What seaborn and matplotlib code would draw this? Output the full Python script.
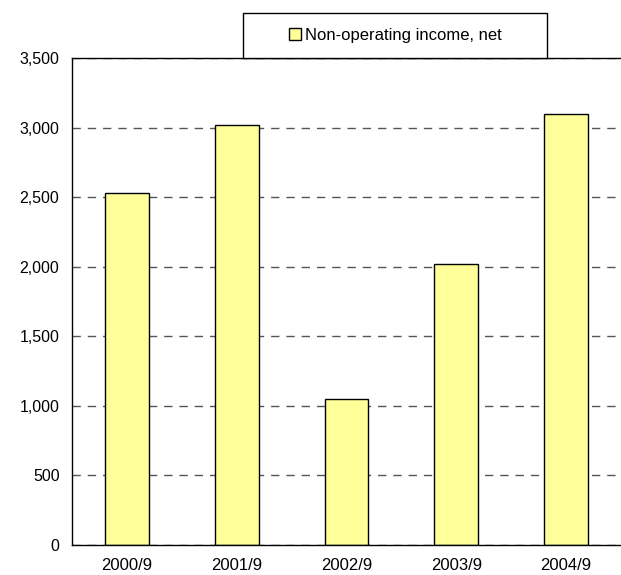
import matplotlib
matplotlib.use("Agg")
import matplotlib.pyplot as plt
from matplotlib.patches import Rectangle, Patch
from matplotlib.ticker import FuncFormatter, FixedLocator
import seaborn as sns
import pandas as pd

# Non-operating income, net by fiscal period
periods = ["2000/9", "2001/9", "2002/9", "2003/9", "2004/9"]
income = [2530, 3020, 1050, 2020, 3100]
series_name = "Non-operating income, net"
y_ticks = [0, 500, 1000, 1500, 2000, 2500, 3000, 3500]

sns.set_style("white")
plt.rcParams["font.family"] = ["Liberation Sans", "DejaVu Sans"]
plt.rcParams["font.size"] = 11
plt.rcParams["text.color"] = "black"
plt.rcParams["xtick.color"] = "black"
plt.rcParams["ytick.color"] = "black"
plt.rcParams["xtick.labelcolor"] = "black"
plt.rcParams["ytick.labelcolor"] = "black"

df = pd.DataFrame({"period": periods, "income": income})

fig = plt.figure(figsize=(6.21, 5.75), dpi=100)
W, H = 621, 575
ax = fig.add_axes([72 / W, 30 / H, 549 / W, 487 / H])

ax.yaxis.grid(True, linestyle=(0, (6, 5)), color="#555555", linewidth=1.0)
ax.set_axisbelow(True)

sns.barplot(data=df, x="period", y="income", color="#FFFF99",
            edgecolor="black", linewidth=1.0, width=0.4, saturation=1,
            ax=ax)

ax.set_xlim(-0.5, 4.5)
ax.set_ylim(0, 3500)
ax.set_yticks(y_ticks)
ax.yaxis.set_major_formatter(FuncFormatter(lambda v, p: f"{int(v):,}"))
ax.set_xlabel("")
ax.set_ylabel("")

ax.xaxis.set_minor_locator(FixedLocator([0.5, 1.5, 2.5, 3.5]))
ax.tick_params(axis="x", which="major", length=0, pad=9, labelsize=12,
               labelcolor="black")
ax.tick_params(axis="x", which="minor", direction="in", length=5,
               width=1, color="black")
ax.tick_params(axis="y", which="major", length=0, pad=9, labelsize=11.5,
               labelcolor="black")

for side in ["left", "bottom", "top"]:
    ax.spines[side].set_visible(True)
    ax.spines[side].set_color("black")
    ax.spines[side].set_linewidth(1.0)
ax.spines["right"].set_visible(False)

# Legend box above the plot area
x0, x1, y0, y1 = 243, 547, 13, 58
fig.patches.append(Rectangle((x0 / W, 1 - y1 / H), (x1 - x0) / W,
                             (y1 - y0) / H, transform=fig.transFigure,
                             facecolor="white", edgecolor="black",
                             linewidth=1.0, zorder=5))
handle = Patch(facecolor="#FFFF99", edgecolor="black", linewidth=1.0)
fig.legend([handle], [series_name], loc="center",
           bbox_to_anchor=((x0 + x1) / 2 / W, 1 - (y0 + y1) / 2 / H),
           frameon=False, fontsize=12, handlelength=0.75, handleheight=0.75,
           handletextpad=0.2, borderaxespad=0, labelcolor="black")

fig.savefig("out.png", dpi=100)
